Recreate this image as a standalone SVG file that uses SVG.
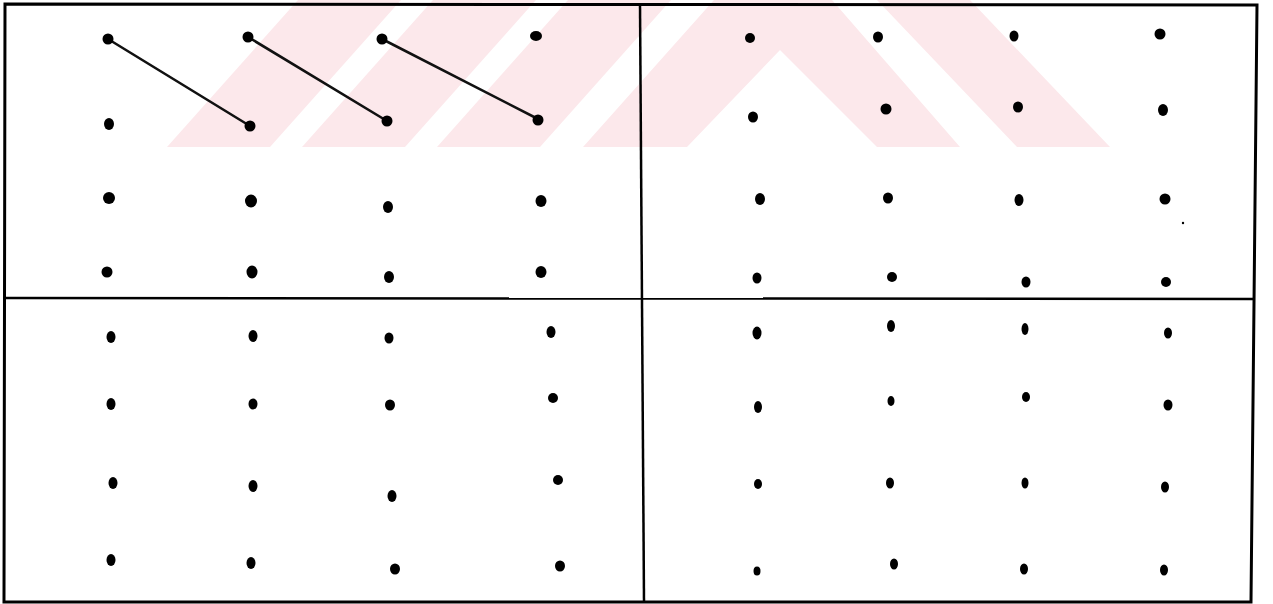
<svg xmlns="http://www.w3.org/2000/svg" width="1273" height="604" viewBox="0 0 1273 604">
<style>
.wm{fill:#fce8eb;stroke:none}
.frame{fill:none;stroke:#000;stroke-width:3;stroke-linejoin:miter}
.div{fill:none;stroke:#000;stroke-width:2.5}
.dot{fill:#000}
.big{fill:#000}
.link{stroke:#111;stroke-width:2.6;stroke-linecap:round;fill:none}
</style>
<rect width="1273" height="604" fill="#fff"/>
<g id="watermark">
<polygon class="wm" points="167,147 298,0 401,0 270,147"/>
<polygon class="wm" points="302,147 433,0 536,0 405,147"/>
<polygon class="wm" points="437,147 568,0 671,0 540,147"/>
<polygon class="wm" points="583,147 714,0 832,0 960,147 877,147 780,50 687,147"/>
<polygon class="wm" points="877,0 970,0 1110,147 1017,147"/>
</g>
<g id="grid-lines">
<path class="frame" d="M5,4 L1257,5 L1251,602 L4,602 Z"/>
<path class="div" d="M640,4 L644,602"/>
<path class="div" d="M4,298 L1255,299"/>
</g>
<g id="connectors">
<line class="link" x1="108" y1="39" x2="250" y2="126"/>
<line class="link" x1="248" y1="37" x2="387" y2="121"/>
<line class="link" x1="382" y1="39" x2="538" y2="119"/>
</g>
<g id="top-left">
<g id="tl-1-1"><ellipse class="big" cx="108" cy="39" rx="5.5" ry="5.5"/></g>
<g id="tl-1-2"><ellipse class="big" cx="248" cy="37" rx="5.5" ry="5.5"/></g>
<g id="tl-1-3"><ellipse class="big" cx="382" cy="39" rx="5.5" ry="5.5"/></g>
<g id="tl-1-4"><ellipse class="big" cx="536" cy="36" rx="6" ry="5"/></g>
<g id="tl-2-1"><ellipse class="big" cx="109" cy="124" rx="5" ry="6"/></g>
<g id="tl-2-2"><ellipse class="big" cx="250" cy="126" rx="5.5" ry="5.5"/></g>
<g id="tl-2-3"><ellipse class="big" cx="387" cy="121" rx="5.5" ry="5.5"/></g>
<g id="tl-2-4"><ellipse class="big" cx="538" cy="120" rx="5.5" ry="5.5"/></g>
<g id="tl-3-1"><ellipse class="big" cx="109" cy="198" rx="6" ry="6"/></g>
<g id="tl-3-2"><ellipse class="big" cx="251" cy="201" rx="6" ry="6.5"/></g>
<g id="tl-3-3"><ellipse class="big" cx="388" cy="207" rx="5" ry="6"/></g>
<g id="tl-3-4"><ellipse class="big" cx="541" cy="201" rx="5.5" ry="6"/></g>
<g id="tl-4-1"><ellipse class="big" cx="107" cy="272" rx="5.5" ry="5.5"/></g>
<g id="tl-4-2"><ellipse class="big" cx="252" cy="272" rx="5.5" ry="6.5"/></g>
<g id="tl-4-3"><ellipse class="big" cx="389" cy="277" rx="5" ry="6"/></g>
<g id="tl-4-4"><ellipse class="big" cx="541" cy="272" rx="5.5" ry="6"/></g>
</g>
<g id="top-right">
<g id="tr-1-1"><ellipse class="dot" cx="750" cy="38" rx="5" ry="5"/></g>
<g id="tr-1-2"><ellipse class="dot" cx="878" cy="37" rx="5" ry="5.5"/></g>
<g id="tr-1-3"><ellipse class="dot" cx="1014" cy="36" rx="4.5" ry="5.5"/></g>
<g id="tr-1-4"><ellipse class="dot" cx="1160" cy="34" rx="5.5" ry="5.5"/></g>
<g id="tr-2-1"><ellipse class="dot" cx="753" cy="117" rx="5" ry="5.5"/></g>
<g id="tr-2-2"><ellipse class="dot" cx="886" cy="109" rx="5.5" ry="5.5"/></g>
<g id="tr-2-3"><ellipse class="dot" cx="1018" cy="107" rx="5" ry="5.5"/></g>
<g id="tr-2-4"><ellipse class="dot" cx="1163" cy="110" rx="5" ry="6"/></g>
<g id="tr-3-1"><ellipse class="dot" cx="760" cy="199" rx="5" ry="6"/></g>
<g id="tr-3-2"><ellipse class="dot" cx="888" cy="198" rx="5" ry="5.5"/></g>
<g id="tr-3-3"><ellipse class="dot" cx="1019" cy="200" rx="4.5" ry="6"/></g>
<g id="tr-3-4"><ellipse class="dot" cx="1165" cy="199" rx="5.5" ry="5.5"/></g>
<g id="tr-4-1"><ellipse class="dot" cx="757" cy="278" rx="4.5" ry="5.5"/></g>
<g id="tr-4-2"><ellipse class="dot" cx="892" cy="277" rx="5" ry="5"/></g>
<g id="tr-4-3"><ellipse class="dot" cx="1026" cy="282" rx="4.5" ry="5.5"/></g>
<g id="tr-4-4"><ellipse class="dot" cx="1166" cy="282" rx="5" ry="5"/></g>
<circle cx="1183" cy="223" r="1.2" fill="#000"/>
</g>
<g id="bottom-left">
<g id="bl-1-1"><ellipse class="dot" cx="111" cy="337" rx="4.5" ry="6"/></g>
<g id="bl-1-2"><ellipse class="dot" cx="253" cy="336" rx="4.5" ry="6"/></g>
<g id="bl-1-3"><ellipse class="dot" cx="389" cy="338" rx="4.5" ry="5.5"/></g>
<g id="bl-1-4"><ellipse class="dot" cx="551" cy="332" rx="4.5" ry="6"/></g>
<g id="bl-2-1"><ellipse class="dot" cx="111" cy="404" rx="4.5" ry="6"/></g>
<g id="bl-2-2"><ellipse class="dot" cx="253" cy="404" rx="4.5" ry="5.5"/></g>
<g id="bl-2-3"><ellipse class="dot" cx="390" cy="405" rx="5" ry="5.5"/></g>
<g id="bl-2-4"><ellipse class="dot" cx="553" cy="398" rx="5" ry="5"/></g>
<g id="bl-3-1"><ellipse class="dot" cx="113" cy="483" rx="4.5" ry="6"/></g>
<g id="bl-3-2"><ellipse class="dot" cx="253" cy="486" rx="4.5" ry="6"/></g>
<g id="bl-3-3"><ellipse class="dot" cx="392" cy="496" rx="4.5" ry="6"/></g>
<g id="bl-3-4"><ellipse class="dot" cx="558" cy="480" rx="5" ry="5"/></g>
<g id="bl-4-1"><ellipse class="dot" cx="111" cy="560" rx="4.5" ry="6"/></g>
<g id="bl-4-2"><ellipse class="dot" cx="251" cy="563" rx="4.5" ry="6"/></g>
<g id="bl-4-3"><ellipse class="dot" cx="395" cy="569" rx="5" ry="5.5"/></g>
<g id="bl-4-4"><ellipse class="dot" cx="560" cy="566" rx="5" ry="5.5"/></g>
</g>
<g id="bottom-right">
<g id="br-1-1"><ellipse class="dot" cx="757" cy="333" rx="4.5" ry="6.5"/></g>
<g id="br-1-2"><ellipse class="dot" cx="891" cy="326" rx="4" ry="6"/></g>
<g id="br-1-3"><ellipse class="dot" cx="1025" cy="329" rx="3.5" ry="6"/></g>
<g id="br-1-4"><ellipse class="dot" cx="1168" cy="333" rx="4" ry="5.5"/></g>
<g id="br-2-1"><ellipse class="dot" cx="758" cy="407" rx="4" ry="6"/></g>
<g id="br-2-2"><ellipse class="dot" cx="891" cy="401" rx="3.5" ry="5"/></g>
<g id="br-2-3"><ellipse class="dot" cx="1026" cy="397" rx="4" ry="5"/></g>
<g id="br-2-4"><ellipse class="dot" cx="1168" cy="405" rx="4.5" ry="5.5"/></g>
<g id="br-3-1"><ellipse class="dot" cx="758" cy="484" rx="4" ry="5"/></g>
<g id="br-3-2"><ellipse class="dot" cx="890" cy="483" rx="4" ry="5.5"/></g>
<g id="br-3-3"><ellipse class="dot" cx="1025" cy="483" rx="3.5" ry="5.5"/></g>
<g id="br-3-4"><ellipse class="dot" cx="1165" cy="487" rx="4" ry="5.5"/></g>
<g id="br-4-1"><ellipse class="dot" cx="757" cy="571" rx="3.5" ry="4.5"/></g>
<g id="br-4-2"><ellipse class="dot" cx="894" cy="564" rx="4" ry="5.5"/></g>
<g id="br-4-3"><ellipse class="dot" cx="1024" cy="569" rx="4" ry="5.5"/></g>
<g id="br-4-4"><ellipse class="dot" cx="1164" cy="570" rx="4" ry="5.5"/></g>
</g>
</svg>
